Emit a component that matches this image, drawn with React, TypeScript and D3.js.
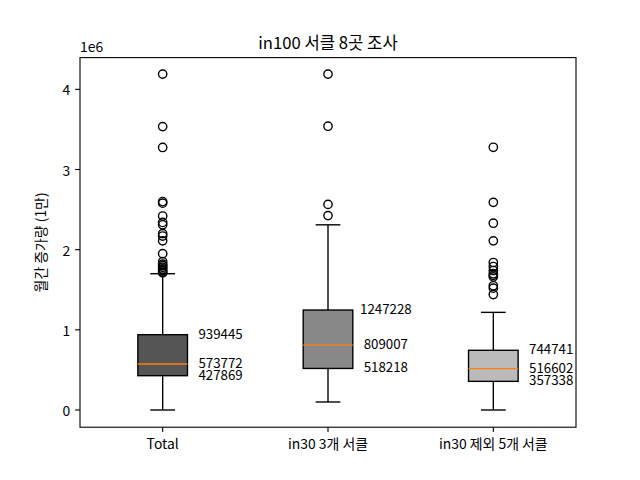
import React from "react";
import * as d3 from "d3";

const categories = ["Total", "in30 3개 서클", "in30 제외 5개 서클"];
const boxFill = ["#555555", "#888888", "#bbbbbb"];
const q1 = [427869, 518218, 357338];
const medians = [573772, 809007, 516602];
const q3 = [939445, 1247228, 744741];
const whiskerLow = [0, 100000, 0];
const whiskerHigh = [1700000, 2310000, 1218000];
const outliersTotal = [4190000, 3535000, 3275000, 2600000, 2580000, 2420000, 2340000, 2310000, 2200000, 2170000, 2110000, 1950000, 1850000, 1820000, 1800000, 1780000, 1760000, 1740000, 1720000, 1710000];
const outliersIn30 = [4190000, 3540000, 2565000, 2425000];
const outliersOther = [3277000, 2590000, 2330000, 2110000, 1840000, 1790000, 1740000, 1700000, 1680000, 1660000, 1550000, 1520000, 1440000];
const outliers = [outliersTotal, outliersIn30, outliersOther];
const yTicks = [0, 1000000, 2000000, 3000000, 4000000];

const W = 640, H = 480;
const L = 80, R = 576, T = 57.6, B = 427.2;
const FONT = "'Noto Sans CJK KR', 'Noto Sans', sans-serif";

export default function App() {
  const x = d3.scaleLinear().domain([0.5, 3.5]).range([L, R]);
  const y = d3.scaleLinear().domain([-214600, 4396000]).range([B, T]);
  const bw = x(1.3) - x(1);
  const halfBox = x(1.15) - x(1);
  const capHalf = halfBox / 2;
  const lw = 1.39;

  return (
    <svg width={W} height={H} style={{ position: "absolute", left: 0, top: 0, background: "#fff" }} fontFamily={FONT}>
      <rect x={0} y={0} width={W} height={H} fill="#fff" />
      {categories.map((c, i) => {
        const cx = x(i + 1);
        return (
          <g key={c}>
            <line x1={cx} x2={cx} y1={y(q1[i])} y2={y(whiskerLow[i])} stroke="#000" strokeWidth={lw} />
            <line x1={cx} x2={cx} y1={y(q3[i])} y2={y(whiskerHigh[i])} stroke="#000" strokeWidth={lw} />
            <line x1={cx - capHalf} x2={cx + capHalf} y1={y(whiskerLow[i])} y2={y(whiskerLow[i])} stroke="#000" strokeWidth={lw} />
            <line x1={cx - capHalf} x2={cx + capHalf} y1={y(whiskerHigh[i])} y2={y(whiskerHigh[i])} stroke="#000" strokeWidth={lw} />
            <rect x={cx - halfBox} y={y(q3[i])} width={bw} height={y(q1[i]) - y(q3[i])} fill={boxFill[i]} stroke="#000" strokeWidth={lw} />
            <line x1={cx - halfBox} x2={cx + halfBox} y1={y(medians[i])} y2={y(medians[i])} stroke="#ff7f0e" strokeWidth={lw} />
            {outliers[i].map((v, j) => (
              <circle key={j} cx={cx} cy={y(v)} r={4.17} fill="none" stroke="#000" strokeWidth={lw} />
            ))}
            {[q3[i], medians[i], q1[i]].map((v, j) => (
              <text key={"t" + j} x={x(i + 1.35)} y={y(v) - 1.5} textAnchor="middle" dominantBaseline="central" fontSize={13.3} fill="#000">{String(v)}</text>
            ))}
          </g>
        );
      })}
      <rect x={L} y={T} width={R - L} height={B - T} fill="none" stroke="#000" strokeWidth={1.1} />
      {yTicks.map((t) => (
        <g key={t}>
          <line x1={L - 4.86} x2={L} y1={y(t)} y2={y(t)} stroke="#000" strokeWidth={1.1} />
          <text x={L - 9.7} y={y(t)} textAnchor="end" dominantBaseline="central" fontSize={13.9}>{String(t / 1e6)}</text>
        </g>
      ))}
      {categories.map((c, i) => (
        <g key={"x" + c}>
          <line x1={x(i + 1)} x2={x(i + 1)} y1={B} y2={B + 4.86} stroke="#000" strokeWidth={1.1} />
          <text x={x(i + 1)} y={B + 9.2} textAnchor="middle" dominantBaseline="hanging" fontSize={13.9}>{c}</text>
        </g>
      ))}
      <text x={L} y={T - 6} textAnchor="start" fontSize={13.9}>1e6</text>
      <text x={(L + R) / 2} y={T - 8.3} textAnchor="middle" fontSize={16.67}>in100 서클 8곳 조사</text>
      <text transform={`translate(40, ${(T + B) / 2}) rotate(-90)`} textAnchor="middle" dominantBaseline="central" fontSize={13.9}>월간 증가량 (1만)</text>
    </svg>
  );
}
